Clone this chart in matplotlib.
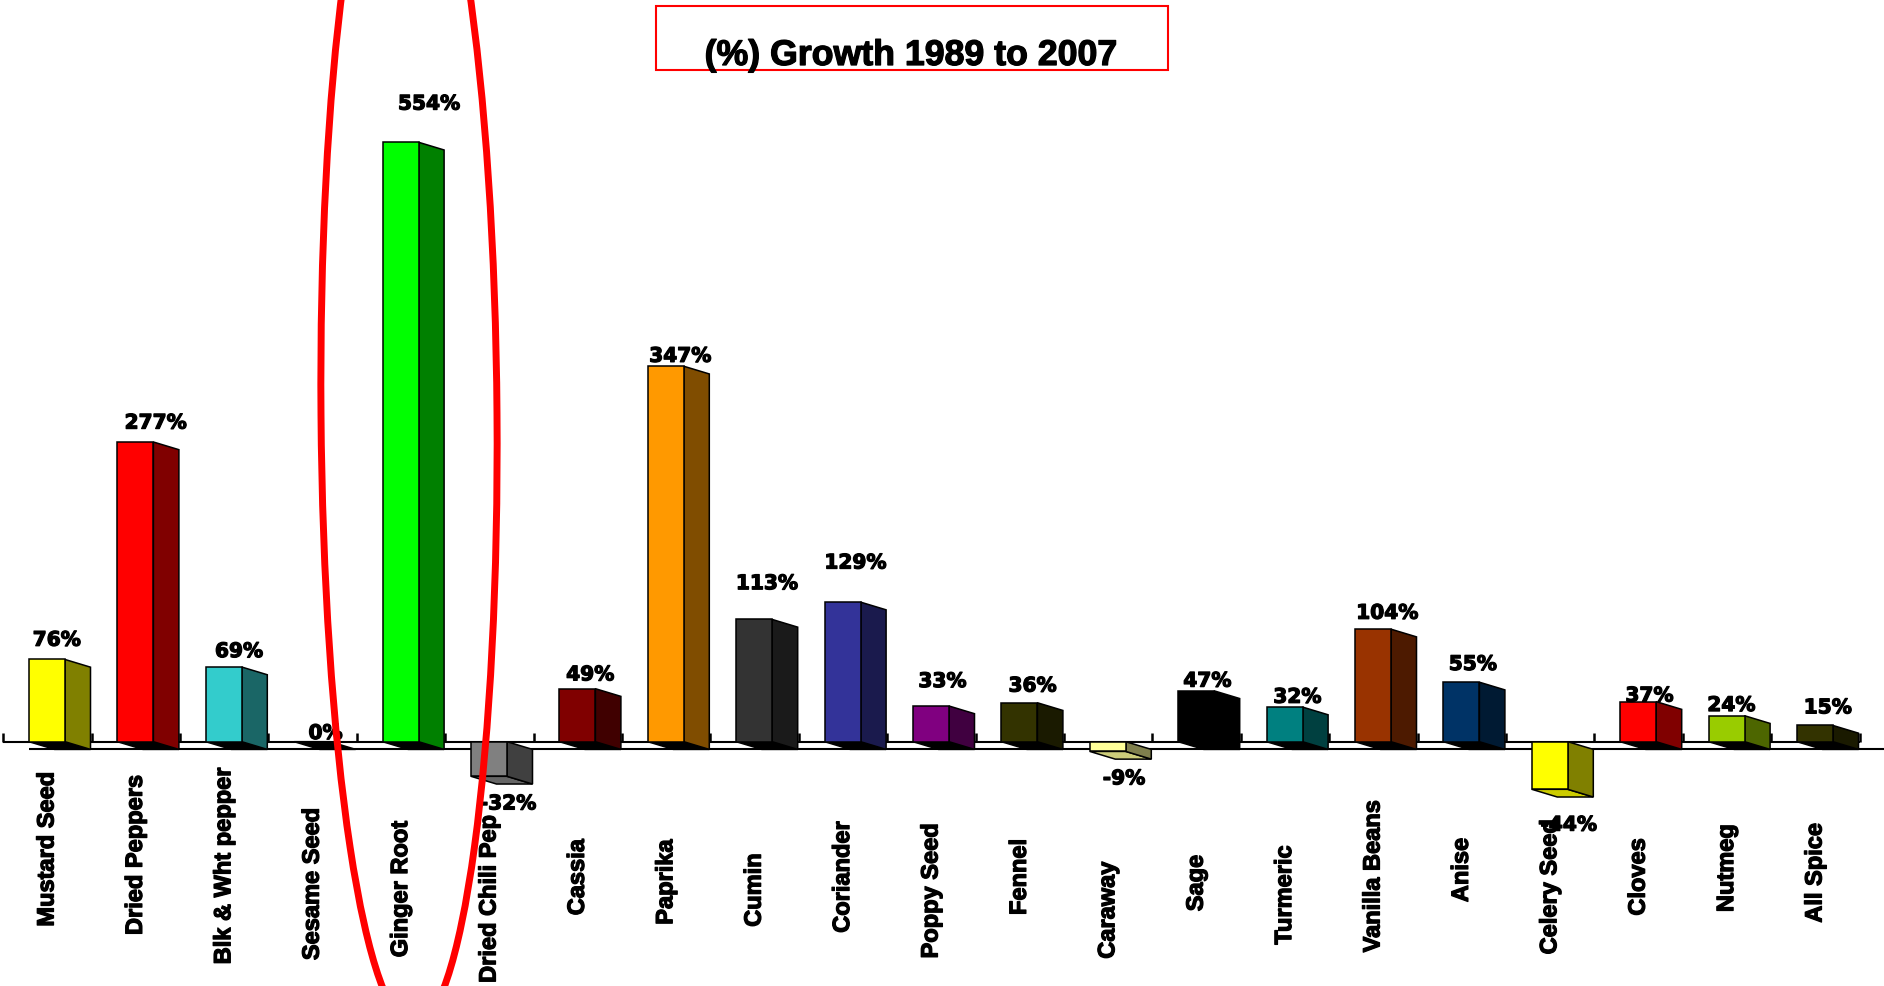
import matplotlib
matplotlib.use('Agg')
import matplotlib.pyplot as plt
import matplotlib.patheffects as pe
from matplotlib.patches import Polygon, Rectangle, Ellipse
from matplotlib.colors import to_rgb

plt.rcParams['font.family'] = ['Liberation Sans', 'DejaVu Sans']

# growth of spice imports, 1989 -> 2007
spices = ['Mustard Seed', 'Dried Peppers', 'Blk & Wht pepper', 'Sesame Seed', 'Ginger Root',
          'Dried Chili Pep', 'Cassia', 'Paprika', 'Cumin', 'Coriander', 'Poppy Seed', 'Fennel',
          'Caraway', 'Sage', 'Turmeric', 'Vanilla Beans', 'Anise', 'Celery Seed', 'Cloves',
          'Nutmeg', 'All Spice']
growth = [76, 277, 69, 0, 554, -32, 49, 347, 113, 129, 33, 36, -9, 47, 32, 104, 55, -44, 37, 24, 15]
bar_colors = ['#ffff00', '#ff0000', '#33cccc', '#808080', '#00ff00', '#808080', '#800000',
              '#ff9900', '#333333', '#333399', '#800080', '#333300', '#ffff99', '#000000',
              '#008080', '#993300', '#003366', '#ffff00', '#ff0000', '#99cc00', '#333300']
title = '(%) Growth 1989 to 2007'

# label placement (pixels): value label shift from bar top, name label centre height
val_dx = [-3, 7.5, 2.4, 0.6, 15.7, 6.3, 0, 1.7, 0, 0, -1.3, 0.4, 3.4, -1.6, 0, 1.5, -1.3, 6.2, -1.5, -8, 0]
val_dy = [-21, -20.7, -17.2, -10, -40, 25.8, -15.6, -11.7, -37.5, -40.9, -26.2, -18.5, 25.6,
          -11.5, -11.6, -17.7, -19.5, 34, -7.5, -12, -19.4]
name_y = [849, 855, 866, 884, 889, 899, 877, 882, 890, 877, 891, 877, 910, 883, 895, 876, 870,
          887, 877, 868, 873]

W_PX, H_PX = 1884, 986
X0, STEP = 3.2, 88.4          # first category edge, category width (px)
BASE, PXV = 741.7, 1.082      # baseline row, pixels per percent

OFF = 25.8 / STEP             # gap before the front face
W = 36.0 / STEP               # front face width
DX = 25.5 / STEP              # depth offset, horizontal
DY = 7.7 / PXV                # depth offset, vertical (drops to the right)

heavy = [pe.withStroke(linewidth=0.9, foreground='black')]


def shade(c, f):
    r, g, b = to_rgb(c)
    return (r * f, g * f, b * f)


fig = plt.figure(figsize=(W_PX / 100, H_PX / 100), dpi=100, facecolor='white')
ax = fig.add_axes([0, 0, 1, 1])
ax.set_xlim(-X0 / STEP, (W_PX - X0) / STEP)
ax.set_ylim((BASE - H_PX) / PXV, BASE / PXV)
ax.axis('off')

n = len(spices)

# floor
ax.plot([0, n], [0, 0], color='black', lw=1.5, zorder=1, solid_capstyle='butt')
ax.plot([DX, ax.get_xlim()[1]], [-DY, -DY], color='black', lw=1.5, zorder=1,
        solid_capstyle='butt')
for k in range(n + 1):
    ax.plot([k, k], [0, 9 / PXV], color='black', lw=1.8, zorder=1, solid_capstyle='butt')

edge = dict(edgecolor='black', linewidth=1.1, joinstyle='miter')
for i, (v, c) in enumerate(zip(growth, bar_colors)):
    x0 = i + OFF
    x1 = x0 + W
    yb = min(v, 0)
    bottom_col = 'black' if v >= 0 else shade(c, 0.8)
    ax.add_patch(Polygon([(x0, yb), (x1, yb), (x1 + DX, yb - DY), (x0 + DX, yb - DY)],
                         closed=True, facecolor=bottom_col, zorder=2, **edge))
    if v != 0:
        ax.add_patch(Polygon([(x1, v), (x1 + DX, v - DY), (x1 + DX, -DY), (x1, 0)],
                             closed=True, facecolor=shade(c, 0.5), zorder=3, **edge))
        ax.add_patch(Rectangle((x0, 0), W, v, facecolor=c, zorder=4, **edge))

    # value label
    ax.annotate(f'{v}%', xy=(x0 + (W + DX) / 2, v), xytext=(val_dx[i], -val_dy[i] - 7.3),
                textcoords='offset pixels', ha='center', va='baseline',
                fontfamily='DejaVu Sans', fontweight='bold', fontsize=14.5, zorder=6,
                path_effects=heavy)

    # category label
    ax.annotate(spices[i], xy=(x0 + W / 2, 0), xytext=(0, BASE - name_y[i]),
                textcoords='offset pixels', rotation=90, ha='center', va='center',
                fontweight='bold', fontsize=17, zorder=6, path_effects=heavy)

# overlay in pixel space: title box and highlight ring
deco = fig.add_axes([0, 0, 1, 1], zorder=5)
deco.set_xlim(0, W_PX)
deco.set_ylim(H_PX, 0)
deco.axis('off')
deco.patch.set_alpha(0)

deco.add_patch(Rectangle((655.6, 6), 512.4, 64, fill=False, edgecolor='#ff0000', linewidth=1.5))
deco.text(910.5, 65, title, ha='center', va='baseline', fontsize=25.7, fontweight='bold',
          path_effects=heavy)
deco.add_patch(Ellipse((409, 414), 176, 1224, angle=-0.44, fill=False,
                       edgecolor='#ff0000', linewidth=5))

fig.savefig('out.png', dpi=100, facecolor='white')
